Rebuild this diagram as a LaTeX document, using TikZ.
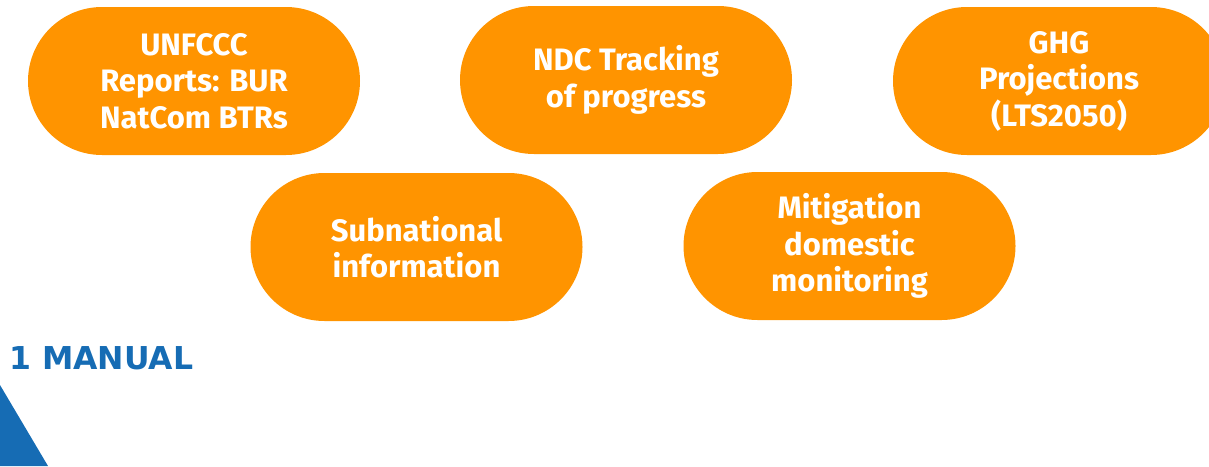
\documentclass[tikz,border=0pt]{standalone}
\usepackage{fontspec}
\setmainfont{Fira Sans}
\newfontfamily\labelfont{DejaVu Sans}
\usetikzlibrary{shapes.misc}
\definecolor{pillorange}{RGB}{255,148,0}
\definecolor{manualblue}{RGB}{22,108,180}
\tikzset{
  pill/.style={rounded rectangle, fill=pillorange, draw=none,
    minimum width=332pt, minimum height=148pt, inner sep=0pt,
    text=white, align=center,
    font=\fontsize{31}{36.5}\selectfont\bfseries},
  manuallabel/.style={anchor=base west, inner sep=0pt, text=manualblue,
    font=\labelfont\fontsize{31.5}{36}\selectfont\bfseries}
}
\begin{document}
\begin{tikzpicture}[x=1pt,y=-1pt]
\useasboundingbox (0,0) rectangle (1209,466);
\clip (0,0) rectangle (1209,466);
\node[pill] (unfccc) at (194,81) {UNFCCC\\Reports: BUR\\NatCom BTRs};
\node[pill] (ndc) at (626,80) {NDC Tracking\\of progress};
\node[pill] (ghg) at (1059,81) {GHG\\Projections\\(LTS2050)};
\node[pill] (subnat) at (416.5,247) {Subnational\\information};
\node[pill] (mitig) at (849.5,246) {Mitigation\\domestic\\monitoring};
\node[manuallabel] (manual) at (9,369) {1 MANUAL};
\fill[manualblue] (0,385) -- (48,466) -- (0,466) -- cycle;
\end{tikzpicture}
\end{document}
